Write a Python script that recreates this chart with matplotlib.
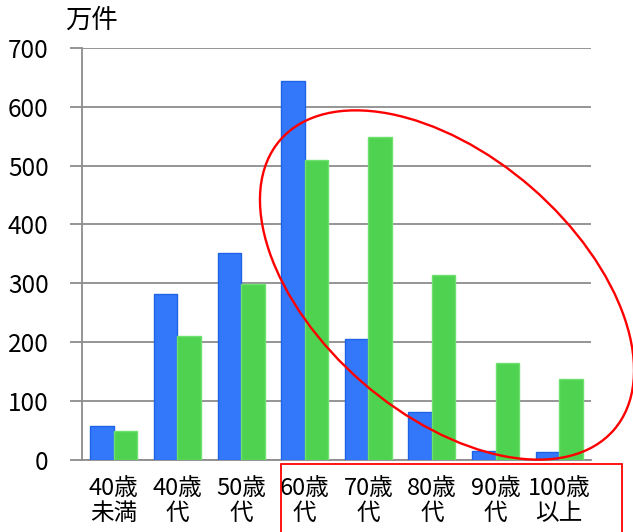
import matplotlib
matplotlib.use("Agg")
import matplotlib.pyplot as plt
import numpy as np
from matplotlib.patches import Ellipse, Rectangle
from matplotlib.transforms import IdentityTransform

plt.rcParams['font.family'] = ['Noto Sans CJK JP', 'DejaVu Sans']

categories = ['40歳\n未満', '40歳\n代', '50歳\n代', '60歳\n代', '70歳\n代', '80歳\n代', '90歳\n代', '100歳\n以上']
blue_vals = [57, 281, 351, 644, 205, 82, 16, 13]
green_vals = [50, 210, 299, 510, 549, 314, 165, 138]
yticks = [0, 100, 200, 300, 400, 500, 600, 700]

fig = plt.figure(figsize=(6.33, 5.32), dpi=100)
ax = fig.add_axes([82 / 633, 72 / 532, (591 - 82) / 633, (460 - 47.7) / 532])

x = np.arange(len(categories))
w = 0.37
ax.bar(x - w / 2, blue_vals, w, color='#3378fa', edgecolor='#1f62e8', linewidth=1, zorder=3)
ax.bar(x + w / 2, green_vals, w, color='#4fd24f', edgecolor='#6ee06e', linewidth=1, zorder=3)

ax.set_xlim(-0.5, len(categories) - 0.5)
ax.set_ylim(0, 700)
ax.set_yticks(yticks)
ax.set_xticks(x)
ax.set_xticklabels(categories, fontsize=17, linespacing=1.12)
ax.tick_params(axis='y', labelsize=17.5, length=9, width=1.3, color='#8c8c8c', pad=15)
ax.tick_params(axis='x', length=0, pad=12)

ax.grid(axis='y', color='#8c8c8c', linewidth=1.3, zorder=0)
for s in ['top', 'right']:
    ax.spines[s].set_visible(False)
ax.spines['left'].set_color('#8c8c8c')
ax.spines['left'].set_linewidth(1.3)
ax.spines['bottom'].set_color('#8c8c8c')
ax.spines['bottom'].set_linewidth(1.3)

fig.text(65 / 633, 1 - 20 / 532, '万件', fontsize=19, ha='left', va='center')

# red ellipse around older age groups (pixel coords)
ell = Ellipse((447, 532 - 285), 442, 258, angle=-41, fill=False,
              edgecolor='#ff0000', linewidth=1.7, transform=IdentityTransform(), clip_on=False)
fig.patches.append(ell)

# red box around the lower labels
rect = Rectangle((281 / 633, -0.05), (622 - 281) / 633, 68 / 532 + 0.05, fill=False,
                 edgecolor='#ff0000', linewidth=1.3, transform=fig.transFigure, clip_on=False)
fig.patches.append(rect)

fig.savefig('out.png', dpi=100)
